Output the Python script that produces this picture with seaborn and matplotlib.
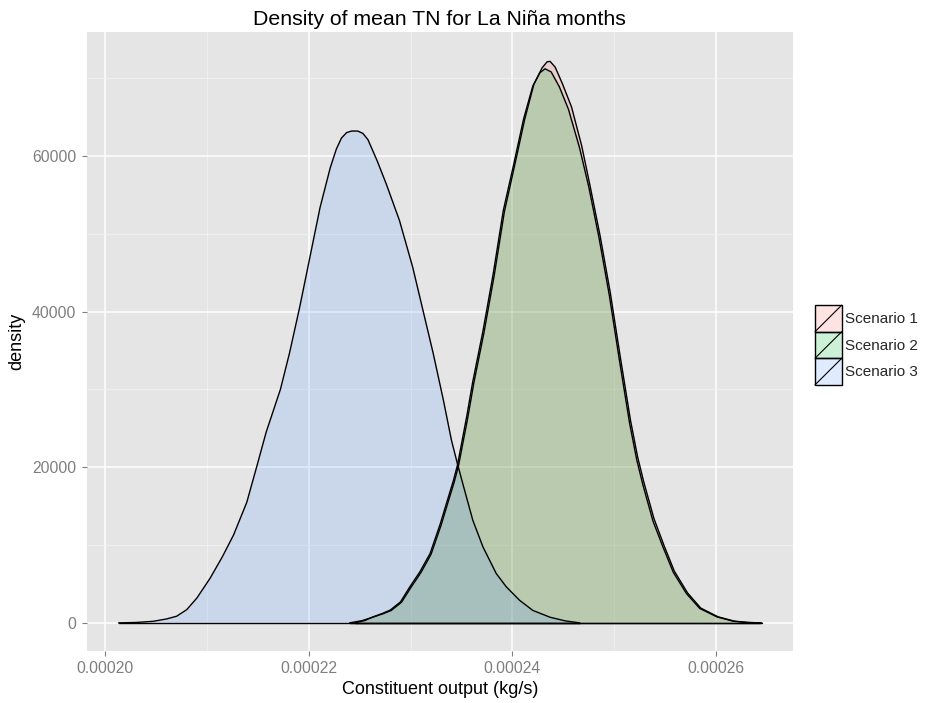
import pandas as pd
import matplotlib
matplotlib.use("Agg")
import matplotlib.pyplot as plt
import seaborn as sns
from matplotlib.patches import Rectangle, Patch
from matplotlib.lines import Line2D
from matplotlib.legend_handler import HandlerBase

# curve points (x in kg/s, density)
s1_x = [0.0002240, 0.0002252, 0.0002263, 0.0002273, 0.0002281, 0.0002291, 0.0002300,
        0.0002310, 0.0002320, 0.0002330, 0.0002336, 0.0002343, 0.0002347, 0.0002356,
        0.0002362, 0.0002372, 0.0002382, 0.0002392, 0.0002402, 0.0002412, 0.0002421,
        0.0002429, 0.0002434, 0.0002437, 0.0002442, 0.0002449, 0.0002458, 0.0002468,
        0.0002476, 0.0002486, 0.0002496, 0.0002506, 0.0002516, 0.0002523, 0.0002529,
        0.0002539, 0.0002549, 0.0002559, 0.0002572, 0.0002585, 0.0002602, 0.0002618,
        0.0002632, 0.0002645]
s1_y = [0, 280, 740, 1180, 1600, 2650, 4500, 6450, 8800, 12600, 15200, 18200, 20200,
        26300, 30800, 37300, 44600, 52800, 58700, 64700, 69200, 71300, 72100, 72150,
        71400, 69300, 66300, 61300, 56300, 49800, 42500, 34100, 26000, 21300, 18100,
        13400, 9900, 6650, 3850, 1900, 780, 220, 50, 0]

s2_x = [0.0002245, 0.0002255, 0.0002263, 0.0002272, 0.0002280, 0.0002290, 0.0002299,
        0.0002309, 0.0002319, 0.0002329, 0.0002335, 0.0002342, 0.0002346, 0.0002355,
        0.0002361, 0.0002371, 0.0002381, 0.0002391, 0.0002401, 0.0002411, 0.0002420,
        0.0002427, 0.0002432, 0.0002438, 0.0002446, 0.0002455, 0.0002466, 0.0002475,
        0.0002485, 0.0002495, 0.0002505, 0.0002515, 0.0002522, 0.0002528, 0.0002538,
        0.0002548, 0.0002558, 0.0002571, 0.0002584, 0.0002601, 0.0002617, 0.0002630,
        0.0002643]
s2_y = [0, 300, 770, 1200, 1650, 2700, 4600, 6550, 8900, 12700, 15300, 18300, 20300,
        26500, 31000, 37500, 44800, 53000, 58800, 64800, 69000, 70700, 71200, 70800,
        68900, 66000, 61000, 56000, 49500, 42200, 33800, 25700, 21000, 17800, 13100,
        9700, 6500, 3750, 1850, 760, 210, 50, 0]

s3_x = [0.0002013, 0.0002030, 0.0002047, 0.0002060, 0.0002070, 0.0002080, 0.0002090,
        0.0002103, 0.0002115, 0.0002126, 0.0002139, 0.0002149, 0.0002158, 0.0002172,
        0.0002181, 0.0002191, 0.0002201, 0.0002211, 0.0002221, 0.0002227, 0.0002232,
        0.0002237, 0.0002242, 0.0002248, 0.0002253, 0.0002258, 0.0002262, 0.0002267,
        0.0002276, 0.0002289, 0.0002302, 0.0002312, 0.0002322, 0.0002332, 0.0002340,
        0.0002346, 0.0002352, 0.0002361, 0.0002371, 0.0002384, 0.0002394, 0.0002407,
        0.0002420, 0.0002437, 0.0002452, 0.0002466]
s3_y = [0, 50, 200, 500, 850, 1700, 3200, 5750, 8500, 11300, 15500, 20200, 24500,
        30000, 34700, 40600, 47000, 53400, 58500, 60900, 62300, 63000, 63200, 63200,
        62900, 62100, 60900, 59400, 56400, 51700, 45700, 40200, 34700, 28700, 23500,
        20400, 17500, 13200, 9760, 6350, 4620, 2900, 1600, 720, 250, 0]

scenarios = ["Scenario 1", "Scenario 2", "Scenario 3"]
colors = ["#F8766D", "#00BA38", "#619CFF"]
x_ticks = [0.00020, 0.00022, 0.00024, 0.00026]
x_labels = ["0.00020", "0.00022", "0.00024", "0.00026"]
y_ticks = [0, 20000, 40000, 60000]

curves = {"Scenario 1": (s1_x, s1_y), "Scenario 2": (s2_x, s2_y), "Scenario 3": (s3_x, s3_y)}
df = pd.concat([pd.DataFrame({"x": xs, "density": ys, "scenario": name})
                for name, (xs, ys) in curves.items()], ignore_index=True)

sns.set_style("darkgrid", {"axes.facecolor": "#E5E5E5", "grid.color": "white"})
plt.rcParams["font.family"] = ["Liberation Sans", "DejaVu Sans"]

fig = plt.figure(figsize=(9.27, 7.03), dpi=100)
ax = fig.add_axes([86.7 / 927, 1 - 651 / 703, (793 - 86.7) / 927, (651 - 32.3) / 703])

for name, col in zip(scenarios, colors):
    sub = df[df["scenario"] == name]
    ax.fill_between(sub["x"], sub["density"], 0, color=col, alpha=0.2, lw=0)
    ax.plot([sub["x"].min(), sub["x"].max()], [0, 0], color="black", lw=1.0)

sns.lineplot(data=df, x="x", y="density", hue="scenario",
             palette={s: "black" for s in scenarios}, estimator=None, sort=False,
             lw=1.0, legend=False, ax=ax)

ax.set_xlim(0.00019817, 0.00026756)
ax.set_ylim(-3614, 75890)
ax.set_xticks(x_ticks)
ax.set_xticklabels(x_labels)
ax.set_yticks(y_ticks)
ax.set_yticklabels([str(v) for v in y_ticks])
ax.set_xticks([0.00021, 0.00023, 0.00025], minor=True)
ax.set_yticks([10000, 30000, 50000, 70000], minor=True)
ax.grid(which="major", color="white", lw=1.1)
ax.grid(which="minor", color="#F2F2F2", lw=0.6)
ax.set_axisbelow(True)
for sp in ax.spines.values():
    sp.set_visible(False)
ax.tick_params(which="major", direction="out", length=3.5, width=0.8, color="#7F7F7F",
               labelcolor="#7F7F7F", labelsize=11.3, pad=4, bottom=True, left=True)
ax.tick_params(which="minor", length=0)

ax.set_xlabel("Constituent output (kg/s)", fontsize=13, color="black", labelpad=3)
ax.set_ylabel("density", fontsize=13, color="black", labelpad=5)
ax.set_title("Density of mean TN for La Niña months", fontsize=15.3, color="black", pad=5)


class SlashKey(HandlerBase):
    def create_artists(self, legend, orig_handle, xdescent, ydescent, width, height,
                       fontsize, trans):
        r = Rectangle((-xdescent, -ydescent), width, height,
                      facecolor=orig_handle.get_facecolor(), edgecolor="black",
                      lw=1.0, transform=trans)
        l = Line2D([-xdescent, -xdescent + width], [-ydescent, -ydescent + height],
                   color="black", lw=0.8, transform=trans)
        return [r, l]


handles = [Patch(facecolor=matplotlib.colors.to_rgba(c, 0.2)) for c in colors]
fig.legend(handles, scenarios, handler_map={Patch: SlashKey()},
           loc="center left", bbox_to_anchor=(815 / 927, 1 - 345 / 703),
           bbox_transform=fig.transFigure, frameon=False, fontsize=11,
           handlelength=1.75, handleheight=2.3, labelspacing=0.0,
           handletextpad=0.2, borderpad=0, borderaxespad=0)

fig.savefig("out.png", dpi=100)
